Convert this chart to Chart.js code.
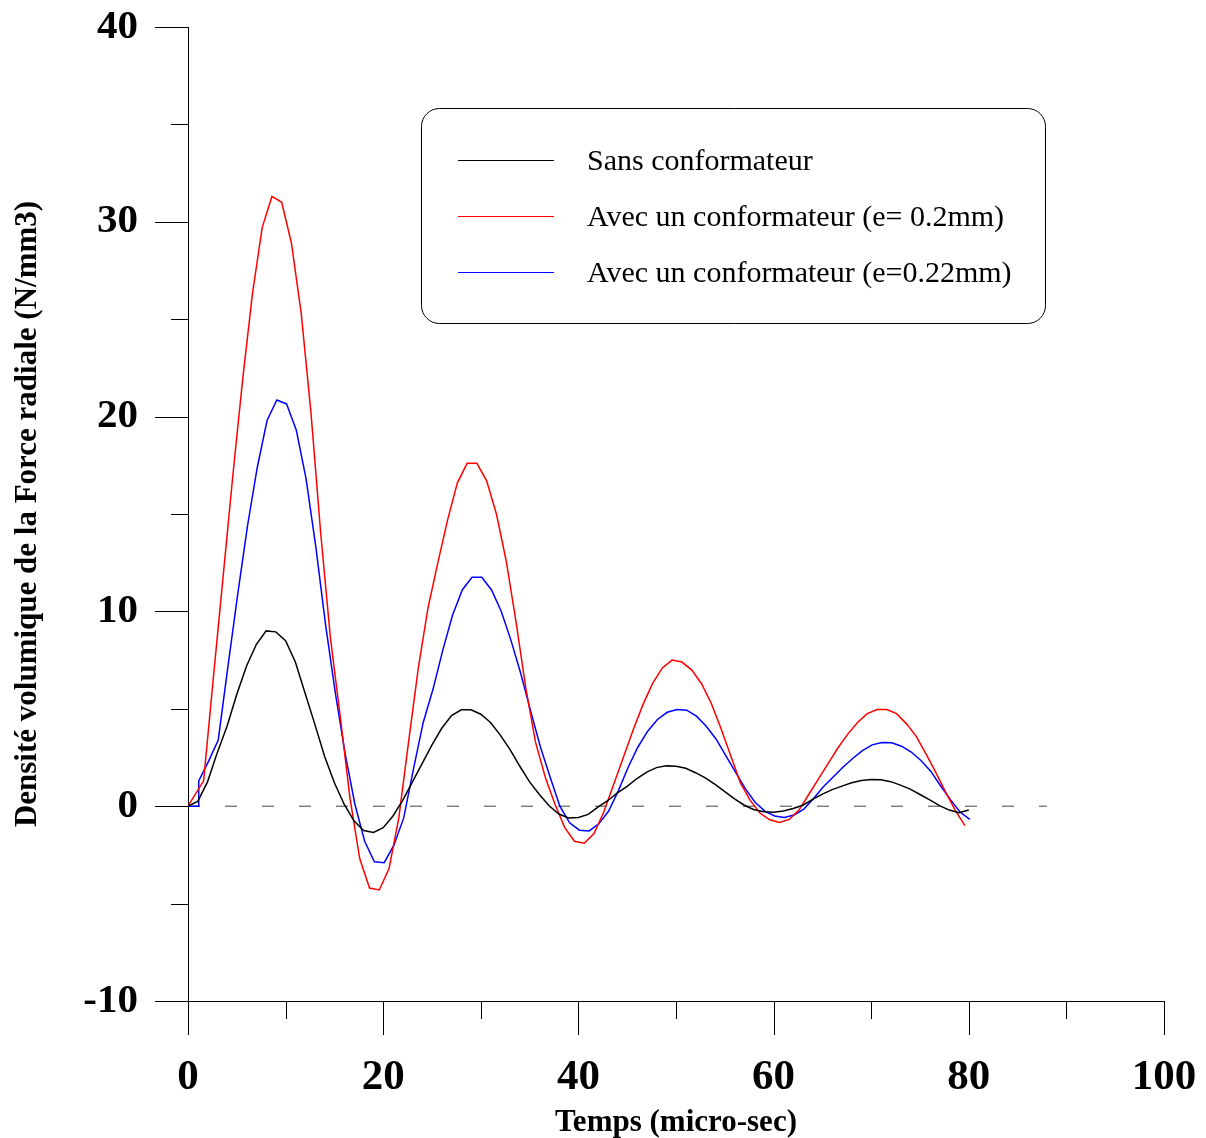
<!DOCTYPE html>
<html>
<head>
<meta charset="utf-8">
<script src="https://cdn.jsdelivr.net/npm/chart.js@4.4.0/dist/chart.umd.min.js"></script>
<style>
  html, body { margin: 0; padding: 0; background: #fff; }
  #chart { display: block; }
</style>
</head>
<body>
<canvas id="chart" width="1206" height="1138"></canvas>
<script>

/* ------------------------------------------------ */
// values (time in micro-sec, force density in N/mm3)

let timeSans = [0, 1, 2, 3, 4, 5, 6, 7, 8, 9, 10, 11, 12, 13, 14, 15, 16, 17, 18, 19,
  20, 21, 22, 23, 24, 25, 26, 27, 28, 29, 30, 31, 32, 33, 34, 35, 36, 37, 38, 39,
  40, 41, 42, 43, 44, 45, 46, 47, 48, 49, 50, 51, 52, 53, 54, 55, 56, 57, 58, 59,
  60, 61, 62, 63, 64, 65, 66, 67, 68, 69, 70, 71, 72, 73, 74, 75, 76, 77, 78, 79, 80];
let sansVals = [0, 0.25, 1.25, 2.75, 4.1, 5.75, 7.2, 8.3, 9.0, 8.95, 8.5, 7.4, 5.8, 4.2, 2.55, 1.2, 0.1, -0.75, -1.25, -1.35,
  -1.1, -0.5, 0.3, 1.25, 2.2, 3.15, 4.0, 4.65, 4.95, 4.95, 4.72, 4.3, 3.65, 2.9, 2.05, 1.25, 0.6, 0.02, -0.4, -0.6,
  -0.58, -0.42, -0.05, 0.28, 0.68, 1.02, 1.42, 1.75, 1.98, 2.07, 2.05, 1.95, 1.72, 1.45, 1.12, 0.75, 0.38, 0.05, -0.18, -0.28,
  -0.31, -0.25, -0.12, 0.05, 0.35, 0.62, 0.85, 1.03, 1.2, 1.32, 1.37, 1.36, 1.26, 1.08, 0.88, 0.6, 0.32, 0.03, -0.2, -0.33, -0.2];

let timeE02 = [0, 1.6, 2.6, 3.6, 4.6, 5.6, 6.6, 7.6, 8.6, 9.6, 10.6, 11.6, 12.6, 13.6, 14.6, 15.6, 16.6, 17.6, 18.6, 19.6,
  20.6, 21.6, 22.6, 23.6, 24.6, 25.6, 26.6, 27.6, 28.6, 29.6, 30.6, 31.6, 32.6, 33.6, 34.6, 35.6, 36.6, 37.6, 38.6, 39.6,
  40.6, 41.6, 42.6, 43.6, 44.6, 45.6, 46.6, 47.6, 48.6, 49.6, 50.6, 51.6, 52.6, 53.6, 54.6, 55.6, 56.6, 57.6, 58.6, 59.6,
  60.6, 61.6, 62.6, 63.6, 64.6, 65.6, 66.6, 67.6, 68.6, 69.6, 70.6, 71.6, 72.6, 73.6, 74.6, 75.6, 76.6, 77.6, 78.6, 79.6];
let e02Vals = [0, 1.3, 6.6, 11.8, 17.0, 21.9, 26.3, 29.7, 31.3, 31.0, 28.9, 25.3, 20.2, 14.0, 8.6, 4.6, 0.4, -2.7, -4.2, -4.3,
  -3.2, -0.6, 3.3, 7.1, 10.2, 12.5, 14.7, 16.6, 17.6, 17.6, 16.7, 15.0, 12.6, 9.5, 6.1, 3.3, 1.5, 0.1, -1.1, -1.8,
  -1.9, -1.4, -0.3, 1.1, 2.5, 3.9, 5.2, 6.3, 7.1, 7.5, 7.4, 7.0, 6.3, 5.3, 4.0, 2.6, 1.2, 0.3, -0.35, -0.7,
  -0.84, -0.68, -0.2, 0.6, 1.4, 2.2, 3.0, 3.7, 4.3, 4.75, 4.96, 4.96, 4.75, 4.24, 3.6, 2.7, 1.75, 0.75, -0.2, -1.0];

let timeE022 = [0, 1.1, 1.1, 2.1, 3.1, 4.1, 5.1, 6.1, 7.1, 8.1, 9.1, 10.1, 11.1, 12.1, 13.1, 14.1, 15.1, 16.1, 17.1, 18.1, 19.1,
  20.1, 21.1, 22.1, 23.1, 24.1, 25.1, 26.1, 27.1, 28.1, 29.1, 30.1, 31.1, 32.1, 33.1, 34.1, 35.1, 36.1, 37.1, 38.1, 39.1,
  40.1, 41.1, 42.1, 43.1, 44.1, 45.1, 46.1, 47.1, 48.1, 49.1, 50.1, 51.1, 52.1, 53.1, 54.1, 55.1, 56.1, 57.1, 58.1, 59.1,
  60.1, 61.1, 62.1, 63.1, 64.1, 65.1, 66.1, 67.1, 68.1, 69.1, 70.1, 71.1, 72.1, 73.1, 74.1, 75.1, 76.1, 77.1, 78.1, 79.1, 80.1];
let e022Vals = [0, 0, 1.3, 2.3, 3.4, 7.2, 10.9, 14.4, 17.4, 19.8, 20.85, 20.65, 19.3, 16.8, 13.3, 9.3, 5.8, 2.7, 0.1, -1.8, -2.85,
  -2.9, -2.0, -0.6, 1.9, 4.3, 6.0, 8.0, 9.8, 11.1, 11.75, 11.75, 11.1, 10.0, 8.5, 6.8, 4.9, 3.05, 1.5, 0.0, -0.85,
  -1.23, -1.27, -0.9, -0.25, 0.8, 2.0, 3.04, 3.85, 4.45, 4.82, 4.96, 4.93, 4.62, 4.1, 3.45, 2.6, 1.75, 0.9, 0.2, -0.25,
  -0.5, -0.58, -0.45, -0.15, 0.4, 1.0, 1.5, 2.0, 2.45, 2.85, 3.15, 3.27, 3.26, 3.08, 2.78, 2.35, 1.8, 1.05, 0.35, -0.3, -0.68];

let zeroLineTimes = [0, 88];
let zeroLineVals = [0, 0];

let seriesLabels = [
  'Sans conformateur',
  'Avec un conformateur (e= 0.2mm)',
  'Avec un conformateur (e=0.22mm)',
];
let seriesColors = ['#000000', '#ff0000', '#0000ff'];

let xTitle = 'Temps (micro-sec)';
let yTitle = 'Densité volumique de la Force radiale (N/mm3)';

/* ------------------------------------------------ */

const SERIF = "'Liberation Serif', 'Times New Roman', Times, serif";

function toPoints(xs, ys) {
  return xs.map((x, i) => ({ x: x, y: ys[i] }));
}

// keep the plot box where the original has it, labels may overflow it
function fixBox(scale) {
  scale.paddingTop = 0;
  scale.paddingBottom = 0;
  scale.paddingLeft = 0;
  scale.paddingRight = 0;
}

// tick marks: long ones where there is a label, short ones in between
const tickMarks = {
  id: 'tickMarks',
  afterDraw(chart) {
    let ctx = chart.ctx;
    let xs = chart.scales.x;
    let ys = chart.scales.y;
    ctx.save();
    ctx.strokeStyle = '#000';
    ctx.lineWidth = 1;
    ctx.beginPath();
    ys.ticks.forEach((t) => {
      let py = Math.round(ys.getPixelForValue(t.value)) + 0.5;
      let len = (t.value % 10 == 0) ? 33 : 17;
      ctx.moveTo(xs.left - len, py);
      ctx.lineTo(xs.left, py);
    });
    xs.ticks.forEach((t) => {
      let px = Math.round(xs.getPixelForValue(t.value)) + 0.5;
      let len = (t.value % 20 == 0) ? 34 : 18;
      ctx.moveTo(px, ys.bottom);
      ctx.lineTo(px, ys.bottom + len);
    });
    ctx.stroke();
    ctx.restore();
  }
};

// boxed legend with rounded corners, like the original plot
const boxLegend = {
  id: 'boxLegend',
  afterDraw(chart) {
    let ctx = chart.ctx;
    let box = { x: 421.5, y: 108.5, w: 624, h: 215, r: 18 };
    ctx.save();
    ctx.strokeStyle = '#000';
    ctx.lineWidth = 1;
    ctx.beginPath();
    ctx.roundRect(box.x, box.y, box.w, box.h, box.r);
    ctx.stroke();

    let items = chart.data.datasets.filter((d) => d.inLegend);
    items.forEach((d, i) => {
      let y = 160.5 + i * 56;
      ctx.strokeStyle = d.borderColor;
      ctx.lineWidth = 1.2;
      ctx.beginPath();
      ctx.moveTo(458, y);
      ctx.lineTo(554, y);
      ctx.stroke();
      ctx.fillStyle = '#000';
      ctx.font = '30px ' + SERIF;
      ctx.textAlign = 'left';
      ctx.textBaseline = 'middle';
      ctx.fillText(d.label, 587, y + 2);
    });
    ctx.restore();
  }
};

function generateChart() {
  let ctx = document.getElementById('chart').getContext('2d');

  let datasets = [
    { label: seriesLabels[0], data: toPoints(timeSans, sansVals), borderColor: seriesColors[0], inLegend: true },
    { label: seriesLabels[1], data: toPoints(timeE02, e02Vals), borderColor: seriesColors[1], inLegend: true },
    { label: seriesLabels[2], data: toPoints(timeE022, e022Vals), borderColor: seriesColors[2], inLegend: true },
    {
      label: 'zero', data: toPoints(zeroLineTimes, zeroLineVals), borderColor: '#444444',
      borderDash: [12, 25], borderWidth: 1, inLegend: false,
    },
  ];
  datasets.forEach((d) => {
    d.pointRadius = 0;
    d.tension = 0;
    d.fill = false;
    if (!d.borderWidth) d.borderWidth = 1.5;
  });

  let config = {
    type: 'line',
    data: { datasets: datasets },
    options: {
      responsive: false,
      animation: false,
      devicePixelRatio: 1,
      layout: { padding: { left: 0, top: 27, right: 42, bottom: 0 } },
      plugins: {
        legend: { display: false },
        tooltip: { enabled: false },
      },
      scales: {
        x: {
          type: 'linear',
          min: 0,
          max: 100,
          afterFit: (scale) => { scale.height = 137; fixBox(scale); },
          ticks: {
            stepSize: 10,
            padding: 51,
            color: '#000',
            maxRotation: 0,
            autoSkip: false,
            font: { family: SERIF, size: 43, weight: 'bold' },
            callback: (v) => (v % 20 == 0 ? String(v) : ''),
          },
          grid: { display: true, drawOnChartArea: false, drawTicks: false },
          border: { display: true, color: '#000', width: 1 },
          title: {
            display: true,
            text: xTitle,
            color: '#000',
            font: { family: SERIF, size: 31, weight: 'bold', lineHeight: 1 },
            padding: { top: 0, bottom: 0 },
          },
        },
        y: {
          type: 'linear',
          min: -10,
          max: 40,
          afterFit: (scale) => { scale.width = 188; fixBox(scale); },
          ticks: {
            stepSize: 5,
            padding: 50,
            color: '#000',
            autoSkip: false,
            font: { family: SERIF, size: 41, weight: 'bold' },
            callback: (v) => (v % 10 == 0 ? String(v) : ''),
          },
          grid: { display: true, drawOnChartArea: false, drawTicks: false },
          border: { display: true, color: '#000', width: 1 },
          title: {
            display: true,
            text: yTitle,
            color: '#000',
            font: { family: SERIF, size: 31, weight: 'bold', lineHeight: 1 },
            padding: { top: 12, bottom: 0 },
          },
        },
      },
    },
    plugins: [tickMarks, boxLegend],
  };

  return new Chart(ctx, config);
}

let chart = generateChart();

</script>
</body>
</html>
